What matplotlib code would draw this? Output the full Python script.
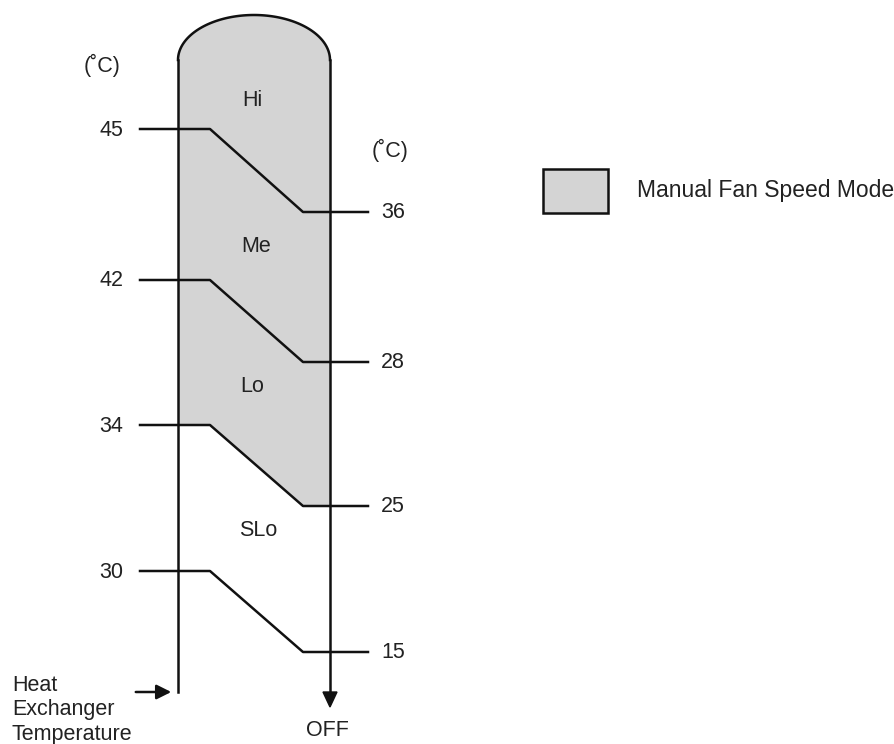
import numpy as np
import matplotlib
matplotlib.use("Agg")
import matplotlib.pyplot as plt
from matplotlib.patches import Polygon, Rectangle

plt.rcParams['font.family'] = ['Liberation Sans', 'DejaVu Sans']

# ---- data ----
left_temps = [45, 42, 34, 30]          # heat exchanger temperature thresholds (rising)
right_temps = [36, 28, 25, 15]         # thresholds (falling)
modes = ['Hi', 'Me', 'Lo', 'SLo']
unit_label = '(˚C)'
legend_label = 'Manual Fan Speed Mode'
axis_label = 'Heat\nExchanger\nTemperature'
off_label = 'OFF'

# ---- layout (pixel coordinates) ----
W, H = 894, 744
fig = plt.figure(figsize=(W / 100, H / 100), dpi=100)
ax = fig.add_axes([0, 0, 1, 1])
ax.set_xlim(0, W)
ax.set_ylim(H, 0)
ax.axis('off')

xl, xr = 178, 330          # left / right column lines
xk1, xk2 = 210, 303        # knee positions of step lines
y_arc = 60
cx, rx, ry = (xl + xr) / 2, (xr - xl) / 2, 45
left_y = [129, 280, 425, 571]
right_y = [212, 362, 506, 652]
mode_xy = [(252, 100), (256, 246), (252, 387), (258, 530)]
lw = 1.8
ink = '#111111'
txt = '#222222'
fs = 15.5
gray = '#d4d4d4'

# gray region (manual fan speed) bounded by the 34 -> 25 line
th = np.linspace(0, np.pi, 100)
arc_x = cx + rx * np.cos(th)
arc_y = y_arc - ry * np.sin(th)
k = modes.index('Lo')
poly = list(zip(arc_x, arc_y)) + [(xl, left_y[k]), (xk1, left_y[k]), (xk2, right_y[k]), (xr, right_y[k])]
ax.add_patch(Polygon(poly, closed=True, facecolor=gray, edgecolor='none', zorder=1))

# outline: arc + verticals
ax.plot(arc_x, arc_y, color=ink, lw=lw, zorder=3)
ax.plot([xl, xl], [y_arc, 692], color=ink, lw=lw, zorder=3)
ax.plot([xr, xr], [y_arc, 695], color=ink, lw=lw, zorder=3)
ax.add_patch(Polygon([(xr - 7, 692), (xr + 7, 692), (xr, 707)], closed=True,
                     facecolor=ink, edgecolor=ink, zorder=3))

# step lines
for lt, rt, ly, ry_ in zip(left_temps, right_temps, left_y, right_y):
    ax.plot([140, xk1, xk2, 368], [ly, ly, ry_, ry_], color=ink, lw=lw, zorder=3)
    ax.text(123, ly + 1, str(lt), ha='right', va='center', fontsize=fs, color=txt)
    ax.text(381, ry_ + 1, str(rt), ha='left', va='center', fontsize=fs, color=txt)

for m, (mx, my) in zip(modes, mode_xy):
    ax.text(mx, my, m, ha='center', va='center', fontsize=fs, color=txt)

ax.text(102, 65, unit_label, ha='center', va='center', fontsize=fs, color=txt)
ax.text(390, 150, unit_label, ha='center', va='center', fontsize=fs, color=txt)

# heat exchanger label + arrow
ax.text(12, 710, axis_label, ha='left', va='center', fontsize=fs, color=txt, linespacing=1.2)
ax.annotate('', xy=(174, 692), xytext=(133, 692),
            arrowprops=dict(arrowstyle='-|>', color=ink, lw=lw, mutation_scale=22))
ax.text(327, 730, off_label, ha='center', va='center', fontsize=fs, color=txt)

# legend
ax.add_patch(Rectangle((543, 169), 65, 44, facecolor=gray, edgecolor=ink, lw=lw, zorder=3))
ax.text(637, 191, legend_label, ha='left', va='center', fontsize=16.5, color=txt)

fig.savefig('out.png', dpi=100)
